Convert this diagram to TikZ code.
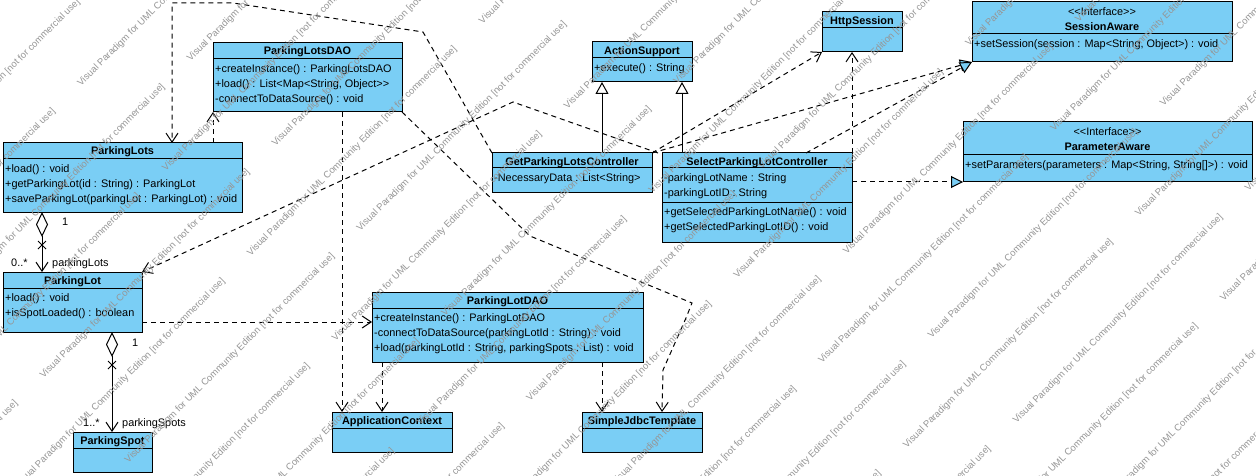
\documentclass[tikz,border=0pt]{standalone}
\usepackage{fontspec}
\setmainfont{Liberation Sans}
\usetikzlibrary{arrows.meta,calc}
\definecolor{umlfill}{RGB}{122,206,245}
\definecolor{wmgray}{RGB}{150,150,150}
\newcommand{\umlfont}{\fontsize{10.9}{13}\selectfont}
% class box: name, x1, y1, x2, y2
\newcommand{\umlbox}[5]{\node[box, minimum width={#4-#2}, minimum height={#5-#3}] (#1) at (#2,#3) {};}
% compartment separator: box name, offset from top
\newcommand{\usep}[2]{\draw[boxline] ($(#1.north west)+(0,#2)$) -- ($(#1.north east)+(0,#2)$);}
\begin{document}
\begin{tikzpicture}[x=1pt,y=-1pt,
  box/.style={draw=black, fill=umlfill, line width=1pt, rectangle, inner sep=0pt, outer sep=0pt, anchor=north west},
  boxline/.style={draw=black, line width=1pt},
  title/.style={anchor=base, inner sep=0pt, font=\umlfont\bfseries},
  stereo/.style={anchor=base, inner sep=0pt, font=\umlfont},
  member/.style={anchor=base west, inner sep=0pt, font=\umlfont},
  endlabel/.style={anchor=base west, inner sep=0pt, font=\umlfont},
  conn/.style={line width=1pt, black},
  dashline/.style={conn, dash pattern=on 5pt off 4pt},
  dep/.style={dashline, -{Straight Barb[length=9pt, width=12pt]}},
  gen/.style={conn, -{Triangle[length=12pt, width=13pt, fill=white]}},
  real/.style={dashline, -{Triangle[length=12pt, width=12pt, fill=umlfill]}},
  aggr/.style={conn, {Diamond[length=25pt, width=12pt, fill=white]}-{Straight Barb[length=9pt, width=12pt]}},
  xmark/.style={conn},
  watermark/.style={anchor=west, rotate=45, inner sep=0pt, text=wmgray, font=\fontsize{9.5}{11}\selectfont}]
\useasboundingbox (0,0) rectangle (1256,476);
\fill[white] (0,0) rectangle (1256,476);

% ---------- class boxes ----------
\umlbox{pldao}{213}{43}{402}{112}
\usep{pldao}{16}
\node[title] (pldao-t) at (307.5,55) {ParkingLotsDAO};
\node[member] (pldao-1) at (215,72.5) {+createInstance() : ParkingLotsDAO};
\node[member] (pldao-2) at (215,87.5) {+load() : List<Map<String, Object>\kern0pt>};
\node[member] (pldao-3) at (215,102.5) {-connectToDataSource() : void};

\umlbox{plots}{3}{143}{242}{212}
\usep{plots}{16}
\node[title] (plots-t) at (122.5,155) {ParkingLots};
\node[member] (plots-1) at (5,172.5) {+load() : void};
\node[member] (plots-2) at (5,187.5) {+getParkingLot(id : String) : ParkingLot};
\node[member] (plots-3) at (5,202.5) {+saveParkingLot(parkingLot : ParkingLot) : void};

\umlbox{plot}{3}{272}{142}{332}
\usep{plot}{16}
\node[title] (plot-t) at (72.5,284) {ParkingLot};
\node[member] (plot-1) at (5,301.5) {+load() : void};
\node[member] (plot-2) at (5,316.5) {+isSpotLoaded() : boolean};

\umlbox{pspot}{73}{432}{152}{472}
\usep{pspot}{16}
\node[title] (pspot-t) at (112.5,444) {ParkingSpot};

\umlbox{pdao}{372}{292}{643}{362}
\usep{pdao}{16}
\node[title] (pdao-t) at (507.5,304) {ParkingLotDAO};
\node[member] (pdao-1) at (374,321.5) {+createInstance() : ParkingLotDAO};
\node[member] (pdao-2) at (374,336.5) {-connectToDataSource(parkingLotId : String) : void};
\node[member] (pdao-3) at (374,351.5) {+load(parkingLotId : String, parkingSpots : List) : void};

\umlbox{appctx}{332}{412}{452}{452}
\usep{appctx}{16}
\node[title] (appctx-t) at (392,424) {ApplicationContext};

\umlbox{jdbc}{582}{412}{702}{452}
\usep{jdbc}{16}
\node[title] (jdbc-t) at (642,424) {SimpleJdbcTemplate};

\umlbox{gplc}{492}{153}{652}{192}
\usep{gplc}{15}
\node[title] (gplc-t) at (572,165) {GetParkingLotsController};
\node[member] (gplc-1) at (494,181.5) {-NecessaryData : List<String>};

\umlbox{splc}{662}{153}{852}{242}
\usep{splc}{15}
\usep{splc}{49}
\node[title] (splc-t) at (757,165) {SelectParkingLotController};
\node[member] (splc-1) at (664,181.5) {-parkingLotName : String};
\node[member] (splc-2) at (664,196.5) {-parkingLotID : String};
\node[member] (splc-3) at (664,215.5) {+getSelectedParkingLotName() : void};
\node[member] (splc-4) at (664,230.5) {+getSelectedParkingLotID() : void};

\umlbox{asup}{592}{42}{692}{82}
\usep{asup}{16}
\node[title] (asup-t) at (642,54.5) {ActionSupport};
\node[member] (asup-1) at (594,71.5) {+execute() : String};

\umlbox{http}{822}{12}{902}{52}
\usep{http}{16}
\node[title] (http-t) at (862,25) {HttpSession};

\umlbox{saware}{972}{2}{1232}{62}
\usep{saware}{32}
\node[stereo] (saware-s) at (1102,15.5) {<\kern0pt<Interface>\kern0pt>};
\node[title] (saware-t) at (1102,31) {SessionAware};
\node[member] (saware-1) at (974,48) {+setSession(session : Map<String, Object>) : void};

\umlbox{paware}{963}{122}{1252}{182}
\usep{paware}{33}
\node[stereo] (paware-s) at (1107.5,135.5) {<\kern0pt<Interface>\kern0pt>};
\node[title] (paware-t) at (1107.5,151) {ParameterAware};
\node[member] (paware-1) at (965,168) {+setParameters(parameters : Map<String, String[]>) : void};

% ---------- generalisation ----------
\draw[gen] ($(gplc.north west)+(110,0)$) -- ($(asup.south west)+(10,0)$);
\draw[gen] ($(splc.north west)+(20,0)$) -- ($(asup.south west)+(90,0)$);

% ---------- realisation ----------
\draw[real] (gplc.north east) -- (saware.south west);
\draw[real] ($(splc.north west)+(144,0)$) -- (saware.south west);
\draw[real] (splc.east |- paware.south west) -- (paware.south west);

% ---------- dependencies ----------
\draw[dep] (gplc.north west) -- (423,32) -- (233,3) -- (172,3) -- ($(plots.north west)+(169,0)$);
\draw[dep] (pldao.south east) -- (530,236) -- (692,303) -- (686,318) -- (663,370) -- ($(jdbc.north west)+(80,0)$);
\draw[dep] ($(splc.north west)+(-4,0)$) -- (513,102) -- (plot.north east);
\draw[dep] (gplc.north east) -- (http.south west);
\draw[dep] (splc.north east) -- (http.south -| splc.north east);
\draw[dep] (plots.north -| pldao.south west) -- (pldao.south west);
\draw[dep] ($(pldao.south west)+(129,0)$) -- ($(appctx.north west)+(10,0)$);
\draw[dep] ($(pdao.south west)+(10,0)$) -- ($(appctx.north west)+(50,0)$);
\draw[dep] ($(pdao.south west)+(230,0)$) -- ($(jdbc.north west)+(20,0)$);
\draw[dep] ($(plot.north east)+(0,50)$) -- ($(pdao.north west)+(0,30)$);

% ---------- aggregations ----------
\draw[aggr] ($(plots.south west)+(39,0)$) -- ($(plot.north west)+(39,0)$);
\draw[xmark] (38,241) -- (46,249) (38,249) -- (46,241);
\node[endlabel] (agg1-src) at (62,225) {1};
\node[endlabel] (agg1-mul) at (11,266) {0..*};
\node[endlabel] (agg1-role) at (52,266) {parkingLots};

\draw[aggr] ($(plot.south west)+(109,0)$) -- ($(pspot.north west)+(39,0)$);
\draw[xmark] (108,361) -- (116,369) (108,369) -- (116,361);
\node[endlabel] (agg2-src) at (132,346) {1};
\node[endlabel] (agg2-mul) at (83,426) {1..*};
\node[endlabel] (agg2-role) at (122,426) {parkingSpots};

% ---------- edition watermark, tiled diagonally over everything ----------
% rows run at 45 degrees; u is the position along a row, w across rows
\begin{scope}
\clip (0,0) rectangle (1256,476);
\foreach \k in {-2,...,19}{
  \foreach \m in {-2,...,2}{
    \pgfmathsetmacro{\wu}{(isodd(\k) ? 91 : -4) + 328*\m}
    \pgfmathsetmacro{\ww}{116 + 60*\k}
    \pgfmathtruncatemacro{\wvis}{((\wu + 294 > max(-\ww, \ww - 673)) && (\wu < min(1776 - \ww, \ww))) ? 1 : 0}
    \ifnum\wvis=1
      \pgfmathsetmacro{\wx}{(\wu + \ww)*0.70711}
      \pgfmathsetmacro{\wy}{(\ww - \wu)*0.70711}
      \node[watermark] (wm-\k-\m) at (\wx,\wy) {Visual Paradigm for UML Community Edition [not for commercial use]};
    \fi
  }
}
\end{scope}
\end{tikzpicture}
\end{document}
